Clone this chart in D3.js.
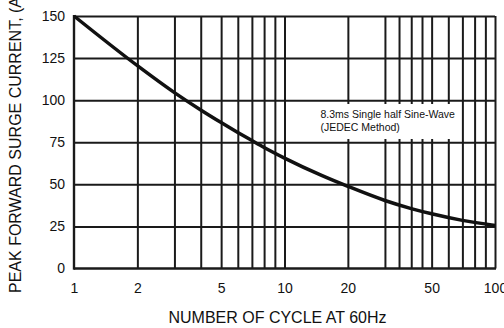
<html>
<head>
<script src="https://d3js.org/d3.v7.min.js"></script>
<style>
  body { margin: 0; background: #fff; }
  text { font-family: "Liberation Sans", Arial, sans-serif; fill: #111; }
</style>
</head>
<body>
<svg id="svg" width="504" height="328"></svg>
<script>
// **** Data ****
const cycles = [1, 2, 3, 4, 5, 6, 7, 8, 10, 15, 20, 30, 40, 50, 70, 100]
const surge = [150, 120.5, 104.5, 94.2, 86.7, 80.8, 76, 71.9, 65.6, 55.3, 48.8, 40.4, 35.6, 32.5, 28.6, 25.6]

const xGrid = [2, 3, 4, 5, 6, 7, 8, 9, 10, 20, 30, 35, 40, 45, 50, 60, 70, 80, 90, 100]
const xLabels = [1, 2, 5, 10, 20, 50, 100]
const yTicks = [0, 25, 50, 75, 100, 125, 150]

const noteLines = ['8.3ms Single half Sine-Wave', '(JEDEC Method)']

// **** Scales ****
const x = d3.scaleLog().domain([1, 100]).range([74, 495])
const y = d3.scaleLinear().domain([0, 150]).range([268.5, 16])

const svg = d3.select('#svg')

// vertical grid
svg.append('g')
  .attr('transform', 'translate(0,16)')
  .call(d3.axisBottom(x).tickValues(xGrid).tickSize(252.5).tickFormat(''))
  .call(g => g.select('.domain').remove())
  .call(g => g.selectAll('line').attr('stroke', '#1a1a1a').attr('stroke-width', 2))

// horizontal grid
svg.append('g')
  .attr('transform', 'translate(74,0)')
  .call(d3.axisRight(y).tickValues(yTicks.slice(1)).tickSize(421).tickFormat(''))
  .call(g => g.select('.domain').remove())
  .call(g => g.selectAll('line').attr('stroke', '#1a1a1a').attr('stroke-width', 2))

// frame: left + bottom axis lines
svg.append('line').attr('x1', x(1)).attr('x2', x(1)).attr('y1', y(150) - 1).attr('y2', y(0) + 1.2)
  .attr('stroke', '#1a1a1a').attr('stroke-width', 2.4)
svg.append('line').attr('x1', x(1)).attr('x2', x(100) + 1).attr('y1', y(0)).attr('y2', y(0))
  .attr('stroke', '#1a1a1a').attr('stroke-width', 2.4)

// note box
svg.append('rect')
  .attr('x', 316).attr('y', 104).attr('width', 142).attr('height', 35)
  .attr('fill', '#fff')
svg.selectAll('.note')
  .data(noteLines)
  .enter()
  .append('text')
  .attr('class', 'note')
  .attr('x', 320.5)
  .attr('y', (d, i) => 118 + i * 12.7)
  .style('font-size', '10.5px')
  .text(d => d)

// curve
svg.append('path')
  .datum(cycles.map((c, i) => [c, surge[i]]))
  .attr('fill', 'none')
  .attr('stroke', '#111')
  .attr('stroke-width', 3.5)
  .attr('d', d3.line().x(d => x(d[0])).y(d => y(d[1])).curve(d3.curveMonotoneX))

// tick labels
svg.append('g')
  .attr('transform', 'translate(0,268)')
  .call(d3.axisBottom(x).tickValues(xLabels).tickSize(0).tickPadding(15).tickFormat(d3.format('d')))
  .call(g => g.select('.domain').remove())
  .call(g => g.selectAll('text').style('font-size', '14px').attr('fill', '#111'))

svg.append('g')
  .attr('transform', 'translate(74,0)')
  .call(d3.axisLeft(y).tickValues(yTicks).tickSize(0).tickPadding(9))
  .call(g => g.select('.domain').remove())
  .call(g => g.selectAll('text').style('font-size', '14px').attr('fill', '#111'))

// axis titles
svg.append('text')
  .attr('x', 277.5).attr('y', 323.3)
  .attr('text-anchor', 'middle')
  .style('font-size', '16px')
  .text('NUMBER OF CYCLE AT 60Hz')

svg.append('text')
  .attr('transform', 'translate(20.5,293) rotate(-90)')
  .style('font-size', '16px')
  .text('PEAK FORWARD SURGE CURRENT, (A)')
</script>
</body>
</html>
